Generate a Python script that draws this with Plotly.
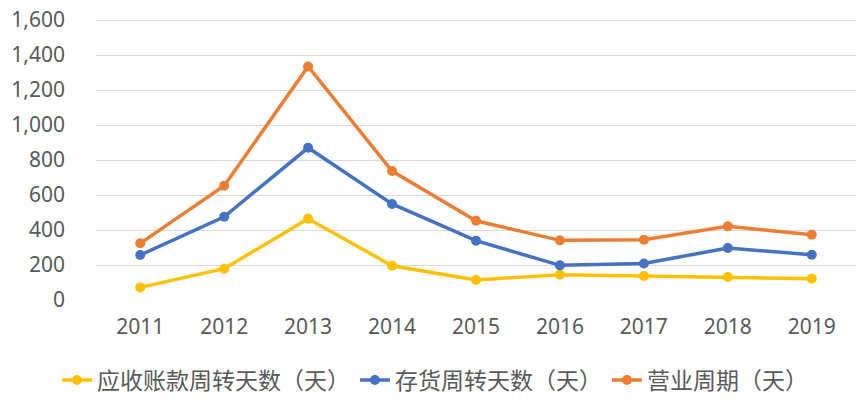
import plotly.graph_objects as go

years = ["2011", "2012", "2013", "2014", "2015", "2016", "2017", "2018", "2019"]
receivable_days = [72, 179, 465, 196, 114, 145, 137, 131, 122]
inventory_days = [257, 476, 870, 549, 339, 198, 209, 297, 259]
operating_cycle = [324, 653, 1335, 737, 453, 341, 345, 421, 373]

names = ["应收账款周转天数（天）", "存货周转天数（天）", "营业周期（天）"]
colors = ["#FFC000", "#4472C4", "#ED7D31"]

fig = go.Figure()
for name, vals, c in zip(names, [receivable_days, inventory_days, operating_cycle], colors):
    fig.add_trace(go.Scatter(
        x=years, y=vals, name=name, mode="lines+markers",
        line=dict(color=c, width=3.5),
        marker=dict(color=c, size=10),
    ))

num_font = dict(family="Noto Sans", size=21, color="#595959")

fig.update_layout(
    width=864, height=404,
    margin=dict(l=96, r=8, t=18, b=104, autoexpand=False),
    paper_bgcolor="white", plot_bgcolor="white",
    showlegend=True,
    legend=dict(
        orientation="h", x=0.446, xanchor="center", y=-0.284, yanchor="middle",
        font=dict(family="Noto Sans CJK SC", size=23, color="#595959"),
        itemwidth=30, tracegroupgap=0,
    ),
    xaxis=dict(
        showgrid=False, showline=False, zeroline=False,
        tickfont=num_font, ticklabelstandoff=12,
    ),
    yaxis=dict(
        range=[0, 1612], tickvals=[0, 200, 400, 600, 800, 1000, 1200, 1400, 1600],
        tickformat=",", ticklabeloverflow="allow",
        showgrid=True, gridcolor="#D9D9D9", gridwidth=1,
        zeroline=False, showline=False,
        tickfont=num_font, ticklabelstandoff=30,
    ),
)

# drop the default 8px page margin so the figure fills the window
fig.write_html("out.html", config={"displayModeBar": False},
               post_script="document.body.style.margin='0';")
